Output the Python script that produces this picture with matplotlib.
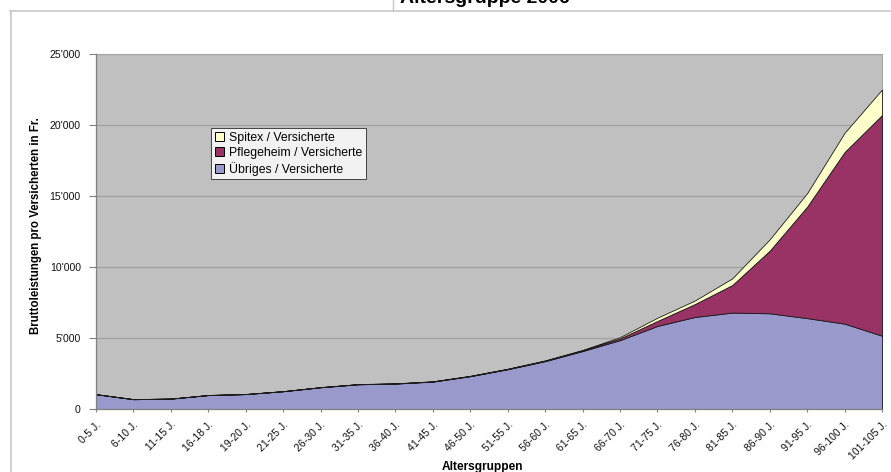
import matplotlib.pyplot as plt
import numpy as np
from matplotlib.patches import Patch
from matplotlib.lines import Line2D
from matplotlib.ticker import FuncFormatter

plt.rcParams['font.family'] = ['Liberation Sans', 'DejaVu Sans']

# Altersgruppen und Bruttoleistungen pro Versicherten (Fr.)
altersgruppen = ['0-5 J.', '6-10 J.', '11-15 J.', '16-18 J.', '19-20 J.', '21-25 J.',
                 '26-30 J.', '31-35 J.', '36-40 J.', '41-45 J.', '46-50 J.', '51-55 J.',
                 '56-60 J.', '61-65 J.', '66-70 J.', '71-75 J.', '76-80 J.', '81-85 J.',
                 '86-90 J.', '91-95 J.', '96-100 J.', '101-105 J.']
uebriges = [1040, 690, 730, 980, 1050, 1250, 1530, 1740, 1790, 1930, 2310, 2800,
            3370, 4080, 4850, 5850, 6480, 6790, 6740, 6400, 6010, 5160]
pflegeheim = [2, 2, 2, 3, 3, 4, 5, 6, 8, 10, 15, 20,
              30, 50, 120, 350, 910, 1940, 4410, 7850, 12090, 15540]
spitex = [5, 4, 4, 4, 4, 5, 6, 8, 10, 12, 15, 20,
          25, 30, 90, 230, 250, 470, 800, 950, 1350, 1800]

W, H = 891, 472
fig = plt.figure(figsize=(W / 100, H / 100), dpi=100)
ax = fig.add_axes([96 / W, 1 - 409 / H, (882 - 96) / W, (409 - 54) / H])

x = np.arange(len(altersgruppen))
ax.set_facecolor('#C0C0C0')
ax.stackplot(x, uebriges, pflegeheim, spitex,
             colors=['#9999CC', '#993366', '#FFFFCC'],
             edgecolor='#1a1a1a', linewidth=0.6, zorder=3)

ax.set_xlim(0, len(altersgruppen) - 1)
ax.set_ylim(0, 25000)
ax.set_yticks(np.arange(0, 25001, 5000))
ax.yaxis.set_major_formatter(FuncFormatter(lambda v, p: f"{int(v):,}".replace(',', "'")))
ax.grid(axis='y', color='#A0A0A0', linewidth=0.9, zorder=1)
ax.set_axisbelow(True)

ax.set_xticks(x)
ax.set_xticklabels(altersgruppen, rotation=45, ha='right', va='top',
                   rotation_mode='anchor', fontsize=7.6, color='#111111')
ax.tick_params(axis='y', labelsize=7.6, length=5, color='#808080', pad=6,
               labelcolor='#111111')
ax.tick_params(axis='x', length=2.5, color='#808080', pad=5)

for s in ['left', 'bottom']:
    ax.spines[s].set_color('#808080')
    ax.spines[s].set_linewidth(0.9)
for s in ['top', 'right']:
    ax.spines[s].set_color('#A8A8A8')
    ax.spines[s].set_linewidth(0.8)
ax.spines['left'].set_zorder(5)
ax.spines['bottom'].set_zorder(5)

fig.text(36 / W, 1 - 226 / H, 'Bruttoleistungen pro Versicherten in Fr.',
         rotation=90, ha='center', va='center', fontsize=8.3, fontweight='bold')
fig.text(482 / W, 1 - 467 / H, 'Altersgruppen', ha='center', va='center',
         fontsize=8.6, fontweight='bold')
# Titel ist im Original oben abgeschnitten
fig.text(400 / W, 1 - 3 / H, 'Altersgruppe 2006', ha='left', va='baseline',
         fontsize=14, fontweight='bold')

handles = [Patch(facecolor='#FFFFCC', edgecolor='black', linewidth=0.7),
           Patch(facecolor='#993366', edgecolor='black', linewidth=0.7),
           Patch(facecolor='#9999CC', edgecolor='black', linewidth=0.7)]
labels = ['Spitex / Versicherte', 'Pflegeheim / Versicherte', 'Übriges / Versicherte']
leg = fig.legend(handles, labels, loc='upper left',
                 bbox_to_anchor=(211 / W, 1 - 128 / H), fontsize=8.8,
                 frameon=True, fancybox=False, edgecolor='black',
                 borderpad=0.3, labelspacing=0.25, handlelength=0.75,
                 handleheight=0.75, handletextpad=0.4, borderaxespad=0)
leg.get_frame().set_linewidth(0.6)

# Rahmenlinien der Diagrammflaeche
fig.add_artist(Line2D([10 / W, 1], [1 - 11 / H, 1 - 11 / H], color='#C8C8C8', linewidth=1.2))
fig.add_artist(Line2D([11 / W, 11 / W], [0, 1 - 11 / H], color='#C8C8C8', linewidth=1.2))
fig.add_artist(Line2D([393 / W, 393 / W], [1 - 11 / H, 1], color='#C8C8C8', linewidth=1.0))

fig.savefig('out.png', dpi=100, facecolor='white')
